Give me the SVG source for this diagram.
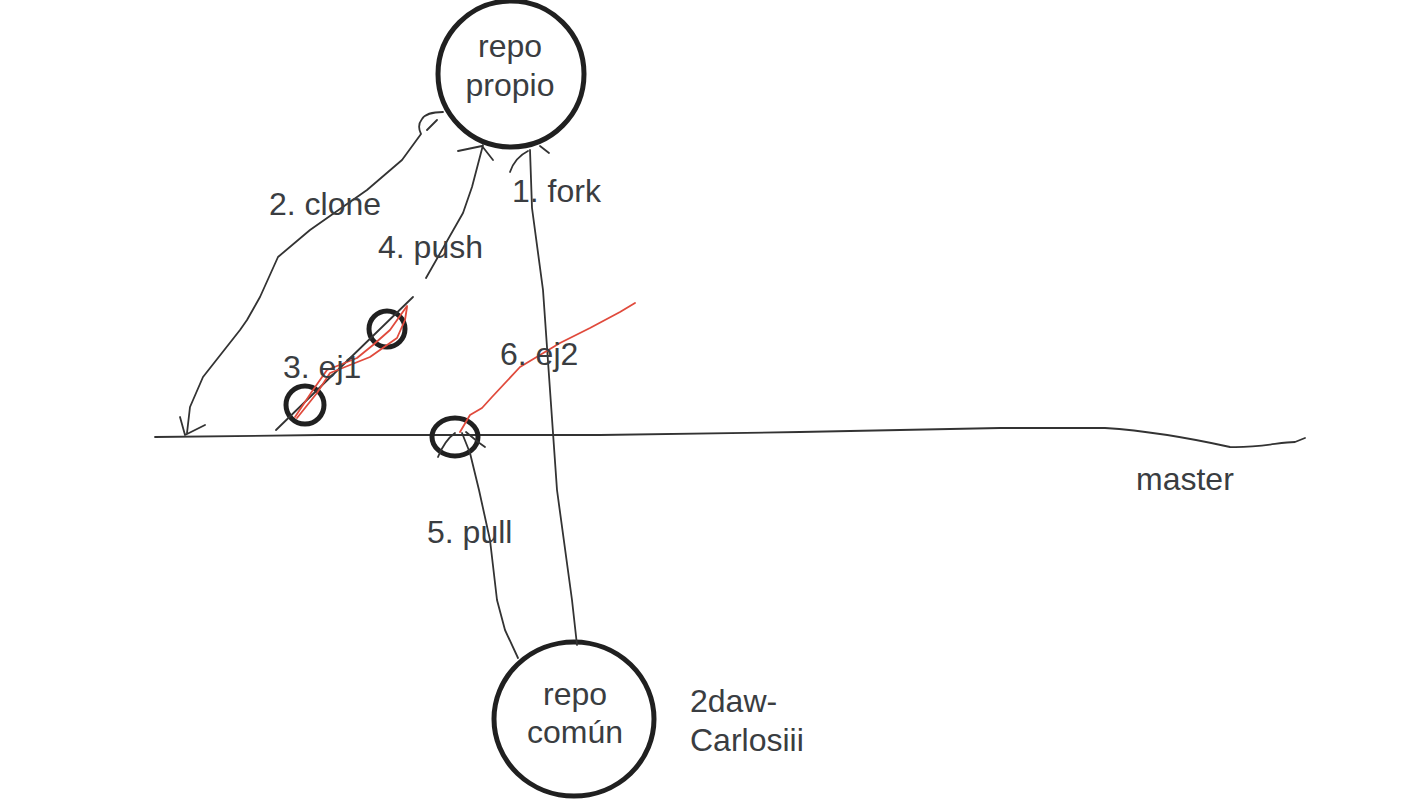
<svg xmlns="http://www.w3.org/2000/svg" width="1422" height="800" viewBox="0 0 1422 800">
<style>
.bg{fill:#ffffff}
.repo{fill:none;stroke:#202020;stroke-width:5}
.commit{fill:none;stroke:#202020;stroke-width:5}
.ln{fill:none;stroke:#333333;stroke-width:1.8;stroke-linecap:round;stroke-linejoin:round}
.red{fill:none;stroke:#e04a3c;stroke-width:1.8;stroke-linecap:round;stroke-linejoin:round}
.t{font-family:"Liberation Sans",Arial,sans-serif;font-size:32px;fill:#3a3d41}
.c{text-anchor:middle}
</style>
<rect class="bg" x="0" y="0" width="1422" height="800"/>
<g id="master">
<path class="ln" d="M155,437 L320,435 L600,435 L800,432 L1000,428 L1105,428 C1150,431 1185,437 1230,447 C1260,448 1280,442 1295,442 L1305,438"/>
<text class="t" x="1136" y="490">master</text>
</g>
<g id="repo-propio">
<circle class="repo" cx="511" cy="74" r="73"/>
<text class="t c" x="510" y="57">repo</text>
<text class="t c" x="510" y="96">propio</text>
</g>
<g id="repo-comun">
<ellipse class="repo" cx="574" cy="719" rx="80" ry="77"/>
<text class="t c" x="575" y="705">repo</text>
<text class="t c" x="575" y="743">común</text>
<text class="t" x="690" y="712">2daw-</text>
<text class="t" x="690" y="751">Carlosiii</text>
</g>
<g id="commit-ej1a">
<circle class="commit" cx="305" cy="405" r="19"/>
</g>
<g id="commit-ej1b">
<circle class="commit" cx="387" cy="329" r="18"/>
</g>
<g id="commit-ej2">
<ellipse class="commit" cx="455" cy="437" rx="23" ry="19"/>
</g>
<g id="connectors">
<path class="ln" d="M577,645 L572,600 L557,490 L543,290 L532,208 L530,150"/>
<path class="ln" d="M510,172 C513,163 520,155 528,151 M540,146 L549,153"/>
<path class="ln" d="M443,112 C434,112 425,114 422,119 C418,124 419,130 421,134 L402,160 L367,190 L310,230 L278,257 L260,297 L247,320 L240,330 L203,377 L190,407 L187,433"/>
<path class="ln" d="M437,120 L427,130 M180,417 L185,435 L205,425"/>
<path class="ln" d="M426,278 L463,213 L472,187 L483,145"/>
<path class="ln" d="M458,151 L482,146 L493,160"/>
<path class="ln" d="M413,297 L276,430"/>
<path class="ln" d="M518,658 L505,630 L497,600 L490,540 L479,490 L470,453 L462,433"/>
<path class="ln" d="M438,457 C442,447 448,438 455,433 M466,432 L478,442 L485,447"/>
<path class="red" d="M295,417 L313,390 L327,370 L357,358 L373,345 L390,330 L407,306"/>
<path class="red" d="M297,418 L317,393 L330,373 L370,357 L397,338 L405,320 L407,307"/>
<path class="red" d="M460,432 L470,415 L482,408 L492,397 L520,367 L560,343 L590,328 L620,312 L635,303"/>
</g>
<g id="labels">
<text class="t" x="512" y="202">1. fork</text>
<text class="t" x="269" y="215">2. clone</text>
<text class="t" x="378" y="258">4. push</text>
<text class="t" x="283" y="378">3. ej1</text>
<text class="t" x="500" y="365">6. ej2</text>
<text class="t" x="427" y="543">5. pull</text>
</g>
</svg>
